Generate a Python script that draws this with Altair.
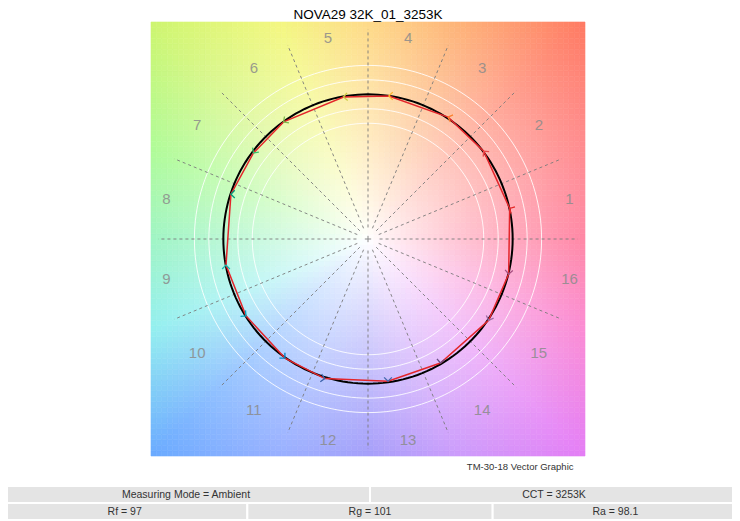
import math
import numpy as np
import pandas as pd
import altair as alt

FONT = "Liberation Sans"
TITLE = "NOVA29 32K_01_3253K"
FOOTNOTE = "TM-30-18 Vector Graphic"

# hue bins
BIN_LABELS = [str(i) for i in range(1, 17)]
BIN_COLORS = ["#e62828", "#e74b4b", "#fb812e", "#ffb529", "#cbca46", "#7eb94c",
              "#41c06d", "#009c7c", "#16bcb0", "#00a4bf", "#0085c3", "#3b62aa",
              "#4568ae", "#6a4e85", "#9d69a1", "#a74f81"]
# test vector end points (relative radius, hue angle in degrees)
TEST_RADIUS = [1.002, 1.004, 1.008, 0.999, 0.996, 0.998, 0.99, 0.997,
               0.998, 0.997, 1.004, 1.010, 0.993, 0.993, 1.006, 1.002]
TEST_ANGLE = [12.2, 37.2, 56.7, 81.7, 99.8, 125.8, 143.1, 161.9,
              190.4, 212.2, 235.1, 252.8, 278.0, 300.3, 326.0, 346.0]
# arrow heading (degrees, counter-clockwise from +x)
ARROW_HEADING = [150, 130, 160, 180, 185, 215, 235, 180,
                 90, 320, 315, 350, 270, 265, 250, 265]
RING_RADII = [0.8, 0.9, 1.1, 1.2]

# background hue anchors (angle, colour at the square's corner distance)
BG_ANGLES = [0, 22.5, 45, 67.5, 90, 112.5, 135, 157.5, 180, 202.5, 225, 247.5, 270, 292.5, 315, 337.5]
BG_COLORS = [(255, 95, 135), (255, 110, 115), (255, 122, 98), (253, 160, 85),
             (254, 205, 95), (240, 245, 95), (205, 245, 110), (155, 250, 125),
             (126, 241, 176), (120, 235, 235), (105, 170, 255), (125, 155, 255),
             (134, 126, 248), (190, 130, 250), (228, 125, 245), (250, 110, 200)]

TABLE_ROW = [0, 0, 1, 1, 1]
TABLE_LABEL = ["Measuring Mode = Ambient", "CCT = 3253K", "Rf = 97", "Rg = 101", "Ra = 98.1"]
TABLE_C0 = [0, 0.5, 0, 1 / 3, 2 / 3]
TABLE_C1 = [0.5, 1, 1 / 3, 2 / 3, 1]

# ---------- tables built from the arrays ----------
def pol(r, a):
    return r * math.cos(math.radians(a)), r * math.sin(math.radians(a))

def bg_color(a, r):
    a = a % 360
    i = int(a // 22.5) % 16
    f = (a - BG_ANGLES[i]) / 22.5
    c0 = BG_COLORS[i]
    c1 = BG_COLORS[(i + 1) % 16]
    t = min(r / 2.1213, 1.0) ** 0.85
    rgb = []
    for k in range(3):
        c = c0[k] + (c1[k] - c0[k]) * f
        rgb.append(int(round(255 - t * (255 - c))))
    return "#%02x%02x%02x" % tuple(rgb)

N = 80
step = 3.0 / N
rows = []
for i in range(N):
    for j in range(N):
        x0 = -1.5 + i * step
        y0 = -1.5 + j * step
        cx, cy = x0 + step / 2, y0 + step / 2
        rows.append(dict(x0=x0, x1=x0 + step, y0=y0, y1=y0 + step,
                         c=bg_color(math.degrees(math.atan2(cy, cx)), math.hypot(cx, cy))))
bg_df = pd.DataFrame(rows)

ring_rows = []
for rr in RING_RADII:
    for k, a in enumerate(range(0, 361, 2)):
        x, y = pol(rr, a)
        ring_rows.append(dict(ring=rr, o=k, x=x, y=y))
ring_df = pd.DataFrame(ring_rows)

circ_rows = []
for k, a in enumerate(range(0, 361, 2)):
    x, y = pol(1.0, a)
    circ_rows.append(dict(o=k, x=x, y=y))
circ_df = pd.DataFrame(circ_rows)

spoke_rows = []
for k in range(16):
    a = k * 22.5
    xa, ya = pol(0.08, a)
    xb, yb = pol(1.45, a)
    spoke_rows.append(dict(xa=xa, ya=ya, xb=xb, yb=yb))
spoke_df = pd.DataFrame(spoke_rows)

poly_rows = []
for k in range(17):
    x, y = pol(TEST_RADIUS[k % 16], TEST_ANGLE[k % 16])
    poly_rows.append(dict(o=k, x=x, y=y))
poly_df = pd.DataFrame(poly_rows)

arrow_rows = []
for k in range(16):
    x, y = pol(TEST_RADIUS[k], TEST_ANGLE[k])
    arrow_rows.append(dict(x=x, y=y, col=BIN_COLORS[k], rot=(360 - ARROW_HEADING[k]) % 360))
arrow_df = pd.DataFrame(arrow_rows)

lab_rows = []
for k in range(16):
    x, y = pol(1.42, (k + 0.5) * 22.5)
    lab_rows.append(dict(x=x, y=y, lab=BIN_LABELS[k]))
lab_df = pd.DataFrame(lab_rows)

center_df = pd.DataFrame({"x": [0.0], "y": [0.0]})

table_df = pd.DataFrame({"row": TABLE_ROW, "label": TABLE_LABEL, "c0": TABLE_C0, "c1": TABLE_C1})
table_df["r0"] = table_df["row"]
table_df["r1"] = table_df["row"] + 1
table_df["cx"] = (table_df["c0"] + table_df["c1"]) / 2
table_df["cy"] = table_df["row"] + 0.5

# ---------- encodings ----------
sx = alt.Scale(domain=[-1.5, 1.5], nice=False, zero=False)
sy = alt.Scale(domain=[-1.5, 1.5], nice=False, zero=False)
ax = alt.Axis(title=FOOTNOTE, labels=False, ticks=False, domain=False, grid=False,
              titleFont=FONT, titleFontSize=9.5, titleFontWeight="normal", titleColor="#333333",
              titleAlign="right", titleX=422, titleY=13, titleBaseline="alphabetic")

def X(f):
    return alt.X(f, type="quantitative", scale=sx, axis=ax)

def Y(f):
    return alt.Y(f, type="quantitative", scale=sy, axis=None)

bg = alt.Chart(bg_df).mark_rect(strokeWidth=0.6).encode(
    x=X("x0"), x2="x1", y=Y("y0"), y2="y1",
    color=alt.Color("c:N", scale=None), stroke=alt.Stroke("c:N", scale=None))

rings = alt.Chart(ring_df).mark_line(color="white", strokeWidth=1, opacity=0.85).encode(
    x=X("x"), y=Y("y"), detail="ring:N", order="o:Q")

spokes = alt.Chart(spoke_df).mark_rule(color="#7a7a7a", strokeWidth=0.9, strokeDash=[3, 3]).encode(
    x=X("xa"), y=Y("ya"), x2="xb", y2="yb")

center = alt.Chart(center_df).mark_point(shape="M-1,0L1,0M0,-1L0,1", filled=False, size=40,
                                         color="#8a8a8a", strokeWidth=1, opacity=1).encode(
    x=X("x"), y=Y("y"))

circle = alt.Chart(circ_df).mark_line(color="black", strokeWidth=2).encode(
    x=X("x"), y=Y("y"), order="o:Q")

poly = alt.Chart(poly_df).mark_line(color="#e3262b", strokeWidth=1.5).encode(
    x=X("x"), y=Y("y"), order="o:Q")

arrows = alt.Chart(arrow_df).mark_point(shape="M-1,-1L0,0L-1,1", filled=False, size=60,
                                        strokeWidth=1.3, opacity=1).encode(
    x=X("x"), y=Y("y"), stroke=alt.Stroke("col:N", scale=None),
    angle=alt.Angle("rot:Q", scale=None))

labels = alt.Chart(lab_df).mark_text(font=FONT, fontSize=15, color="#8c8c8c", opacity=0.85,
                                     baseline="middle", align="center").encode(
    x=X("x"), y=Y("y"), text="lab:N")

polar = alt.layer(bg, rings, spokes, center, circle, poly, arrows, labels)

tx = alt.Scale(domain=[0, 1], range=[-149, 587], nice=False, zero=False)
ty = alt.Scale(domain=[0, 2], range=[464, 498], nice=False, zero=False)

cells = alt.Chart(table_df).mark_rect(fill="#e4e4e4", stroke="#ffffff", strokeWidth=2).encode(
    x=alt.X("c0:Q", scale=tx, axis=None), x2="c1",
    y=alt.Y("r0:Q", scale=ty, axis=None), y2="r1")

texts = alt.Chart(table_df).mark_text(font=FONT, fontSize=10.5, color="#333333",
                                      baseline="middle", align="center").encode(
    x=alt.X("cx:Q", scale=tx, axis=None), y=alt.Y("cy:Q", scale=ty, axis=None), text="label:N")

table = alt.layer(cells, texts)

chart = alt.layer(polar, table).resolve_scale(x="independent", y="independent").properties(
    width=434, height=434,
    title=alt.TitleParams(TITLE, font=FONT, fontSize=13.5, fontWeight="normal", color="black",
                          offset=0, anchor="middle", frame="group"),
    padding={"left": 143, "top": 14, "right": 147, "bottom": 64},
    autosize=alt.AutoSizeParams(type="none"),
    background="white",
).configure_view(strokeWidth=0)

chart.save("out.html", embed_options={"renderer": "svg", "actions": False})
